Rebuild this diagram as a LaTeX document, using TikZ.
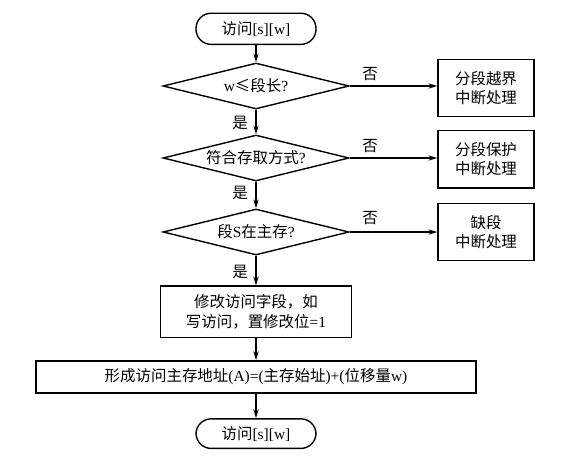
\documentclass[tikz,border=0pt]{standalone}
\usepackage{fontspec}
\setmainfont{Liberation Serif}
\newfontfamily\cjk{Noto Sans CJK SC}
\newcommand{\zh}[1]{{\cjk #1}}
\usetikzlibrary{shapes.geometric,arrows.meta}

\begin{document}
\begin{tikzpicture}[font=\fontsize{11}{14}\selectfont, line width=1pt,
  >={Stealth[length=2.2mm,width=1.3mm]},
  term/.style={draw, rounded corners=0.38cm, minimum width=3.0cm,
               minimum height=0.78cm, align=center},
  test/.style={draw, diamond, aspect=4, inner sep=0pt,
               minimum width=4.65cm, minimum height=1.15cm, align=center},
  intr/.style={draw, minimum width=2.4cm, minimum height=1.43cm,
               align=center},
  proc/.style={draw, minimum height=#1, align=center},
  lab/.style={inner sep=1pt}
]
  \useasboundingbox (0,0) rectangle (14.35,-11.45);
  % main column
  \node[term] (start) at (6.4,-0.72) {\zh{访问}[s][w]};
  \node[test] (len)   at (6.4,-2.15) {w\zh{≤段长}?};
  \node[test] (mode)  at (6.4,-3.95) {\zh{符合存取方式}?};
  \node[test] (inmem) at (6.4,-5.8)  {\zh{段}S\zh{在主存}?};
  \node[proc=1.28cm, minimum width=4.78cm] (mark) at (6.4,-7.79)
        {\zh{修改访问字段，如}\\\zh{写访问，置修改位}=1};
  \node[proc=0.8cm, minimum width=11.0cm] (addr) at (6.4,-9.42)
        {\zh{形成访问主存地址}(A)=(\zh{主存始址})+(\zh{位移量}w)};
  \node[term, minimum height=0.74cm] (stop) at (6.4,-10.84) {\zh{访问}[s][w]};
  % interrupts
  \node[intr] (ovf)  at (12.15,-2.2)  {\zh{分段越界}\\\zh{中断处理}};
  \node[intr] (prot) at (12.15,-3.98) {\zh{分段保护}\\\zh{中断处理}};
  \node[intr] (miss) at (12.15,-5.8)  {\zh{缺段}\\\zh{中断处理}};
  % labels
  \node[lab] (no1)  at (9.25,-1.85) {\zh{否}};
  \node[lab] (no2)  at (9.25,-3.65) {\zh{否}};
  \node[lab] (no3)  at (9.25,-5.45) {\zh{否}};
  \node[lab] (yes1) at (6.0,-3.07)  {\zh{是}};
  \node[lab] (yes2) at (6.0,-4.83)  {\zh{是}};
  \node[lab] (yes3) at (6.0,-6.8)   {\zh{是}};
  \draw[->] (start) -- (len);
  \draw[->] (len)   -- (mode);
  \draw[->] (mode)  -- (inmem);
  \draw[->] (inmem) -- (mark);
  \draw[->] (mark)  -- (addr);
  \draw[->] (addr)  -- (stop);
  \draw[->] (len.east)   -- (len.east -| ovf.west);
  \draw[->] (mode.east)  -- (mode.east -| prot.west);
  \draw[->] (inmem.east) -- (inmem.east -| miss.west);
\end{tikzpicture}
\end{document}
